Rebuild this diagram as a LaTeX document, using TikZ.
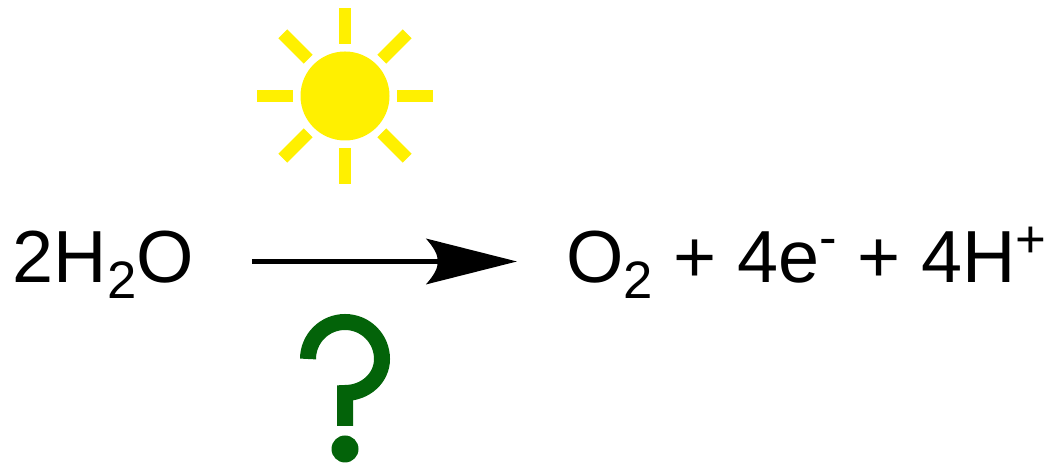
\documentclass[tikz,border=0pt]{standalone}
\usepackage{fontspec}
\setmainfont{Liberation Sans}
\usepackage{xcolor}
\usetikzlibrary{arrows.meta,positioning,calc}
\definecolor{sunYellow}{RGB}{255,240,0}
\definecolor{askGreen}{RGB}{3,99,9}
\newcommand{\chemsub}[1]{\raisebox{-0.16cm}{\fontsize{15}{15}\selectfont #1}}
\newcommand{\chemsup}[2][0.25cm]{\raisebox{#1}{\fontsize{15}{15}\selectfont #2}}
\pgfdeclarearrow{
  name=reactionHead,
  setup code={
    \pgfarrowssettipend{0cm}
    \pgfarrowssetbackend{-0.91cm}
    \pgfarrowssetlineend{-0.78cm}
    \pgfarrowssetvisualbackend{-0.78cm}
    \pgfarrowshullpoint{0cm}{0cm}
    \pgfarrowshullpoint{-0.91cm}{0.23cm}
    \pgfarrowshullpoint{-0.91cm}{-0.23cm}
  },
  drawing code={
    \pgfpathmoveto{\pgfqpoint{0cm}{0cm}}
    \pgfpathlineto{\pgfqpoint{-0.91cm}{0.23cm}}
    \pgfpathcurveto{\pgfqpoint{-0.83cm}{0.14cm}}{\pgfqpoint{-0.79cm}{0.07cm}}{\pgfqpoint{-0.79cm}{0cm}}
    \pgfpathcurveto{\pgfqpoint{-0.79cm}{-0.07cm}}{\pgfqpoint{-0.83cm}{-0.14cm}}{\pgfqpoint{-0.91cm}{-0.23cm}}
    \pgfpathclose
    \pgfusepathqfill
  }
}
\tikzset{
  chem/.style={inner sep=0pt, text height=0.58cm, text depth=0.16cm,
    font=\fontsize{21}{24}\selectfont},
  ray/.style={draw=sunYellow, line width=0.125cm},
  reaction/.style={line width=0.05cm, -{reactionHead}, shorten <=0.575cm, shorten >=0.49cm},
  ask/.style={draw=askGreen, line width=0.16cm, miter limit=10}
}

\begin{document}
\begin{tikzpicture}
    \useasboundingbox (0,0) rectangle (10.49,4.63);

    % sun
    \node[circle, fill=sunYellow, inner sep=0pt, minimum size=0.89cm] (sun) at (3.45,3.67) {};
    \foreach \a in {0,45,...,315}
      \draw[ray] ($(sun)+(\a:0.52)$) -- ($(sun)+(\a:0.88)$);

    % equation
    \node[chem, anchor=west] (water) at (0.12,2.015) {2H\chemsub{2}O};
    \node[chem, anchor=east] (products) at (10.47,2.015)
      {O\chemsub{2} + 4e\chemsup[0.27cm]{-} + 4H\chemsup{+}};
    \draw[reaction] (water) -- (products);

    % question mark
    \draw[ask] (3.08,1.04) arc[start angle=180, end angle=0, radius=0.37]
      .. controls (3.82,0.85) and (3.654,0.70) .. (3.45,0.70) -- (3.45,0.37);
    \node[circle, fill=askGreen, inner sep=0pt, minimum size=0.27cm] (dot) at (3.45,0.14) {};
\end{tikzpicture}
\end{document}
